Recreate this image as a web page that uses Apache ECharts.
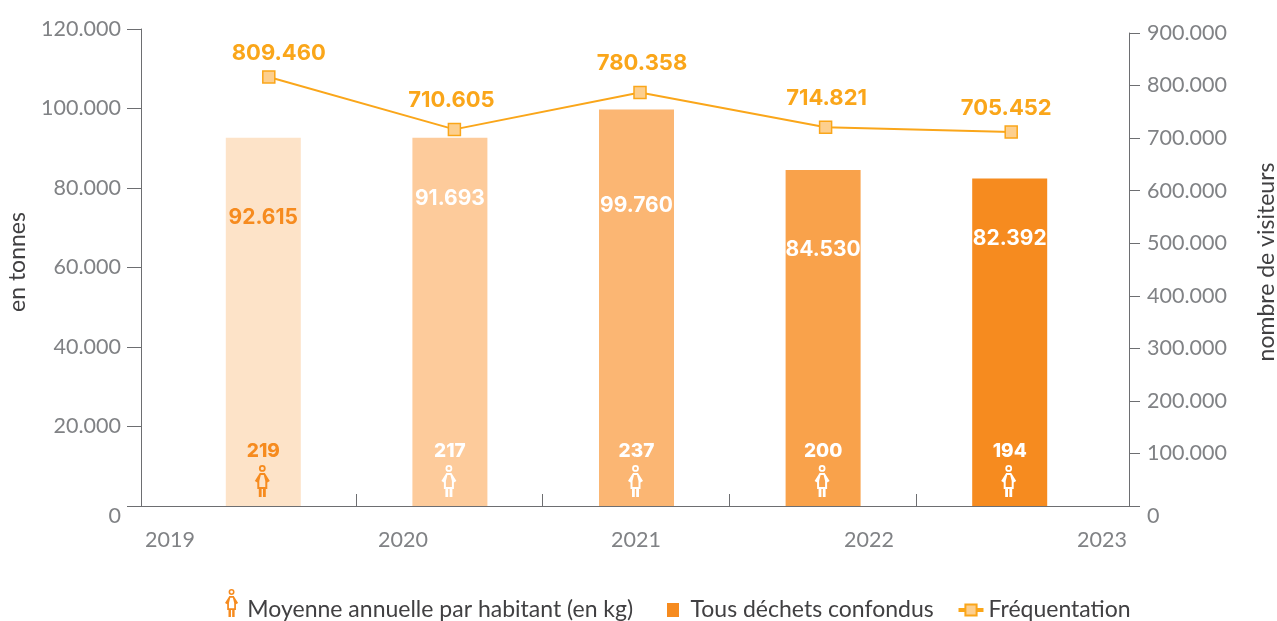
<!DOCTYPE html>
<html><head><meta charset="utf-8">
<style>html,body{margin:0;padding:0;background:#fff}#c{width:1277px;height:621px}</style>
<script src="https://cdn.jsdelivr.net/npm/echarts@6/dist/echarts.min.js"></script>
</head><body><div id="c"></div>
<script>
const years = ['2019','2020','2021','2022','2023'];
const tonnes = [92615, 91693, 99760, 84530, 82392];
const barHeights = [92615, 92615, 99760, 84530, 82392];
const perHabitant = [219, 217, 237, 200, 194];
const visitors = [809460, 710605, 780358, 714821, 705452];
const barColors = ['#fde3c8','#fdcb9b','#fbb673','#f9a24b','#f68b1f'];
const barLabelColors = ['#f68b1f','#fff','#fff','#fff','#fff'];
const barLabelDrop = [69, 50, 86, 69, 50];
const lineLabelOffsets = [[10,6],[-3,1],[2,1],[1,1],[-5,6]];

const FONT = 'Lato', BOLD = 'Inter';
const GREY = '#808285', AXIS = '#6d6e71', DARK = '#414042', ORANGE = '#f68b1f', AMBER = '#faa61a';
const fmt = v => String(v).replace(/\B(?=(\d{3})+$)/g, '.');
const person = 'path://M7.5 0A3.4 3.4 0 1 1 7.49 0ZM7.5 1.8A1.6 1.6 0 1 0 7.51 1.8Z'
  + 'M5 8H10L15 16L12.5 17.5V24H2.5V17.5L0 16ZM6 10L4.5 16V22H10.5V16L9 10Z'
  + 'M4 24H6.8V32H4ZM8.2 24H11V32H8.2Z';
const personLegend = person + 'M-4 48L-4 48';
const tickLabel = (align, margin) => ({
  color: GREY, fontFamily: FONT, fontSize: 21.5, fontWeight: 400, margin, align,
  formatter: v => v === 0 ? '{zero|0}' : fmt(v),
  rich: { zero: { color: GREY, fontFamily: FONT, fontSize: 21.5, fontWeight: 400, padding: [20,0,0,0] } }
});
const hiddenX = (gridIndex, data) => ({ type:'category', gridIndex, data, show:false });
const hiddenY = (gridIndex, max) => ({ type:'value', gridIndex, min:0, max, show:false });
const legendBase = { orient:'horizontal', itemWidth:25, itemGap:5, padding:0,
  textStyle:{ color:DARK, fontFamily:FONT, fontSize:23, fontWeight:400 } };
const gridBase = { outerBoundsMode:'none', containLabel:false, top:29, height:477 };

const option = {
  animation:false,
  grid:[
    {...gridBase, left:141, width:988},
    {...gridBase, left:141, width:988, top:33, height:473},
    {...gridBase, left:170, width:933},
    {...gridBase, left:176, width:928},
    {...gridBase, left:170, width:932},
    {...gridBase, left:356, width:560}
  ],
  xAxis:[
    { type:'category', gridIndex:0, data:years, axisLine:{lineStyle:{color:AXIS,width:1}}, axisTick:{show:false}, axisLabel:{show:false} },
    hiddenX(1, years),
    hiddenX(2, years),
    hiddenX(3, years),
    { type:'category', gridIndex:4, data:years, boundaryGap:false, axisLine:{show:false}, axisTick:{show:false},
      axisLabel:{color:GREY, fontFamily:FONT, fontSize:21.5, fontWeight:400, margin:23, interval:0, showMinLabel:true, showMaxLabel:true} },
    { type:'category', gridIndex:5, data:years.slice(1), boundaryGap:false, axisLine:{show:false},
      axisTick:{show:true, inside:true, length:12, alignWithLabel:true, interval:0, lineStyle:{color:AXIS,width:1}}, axisLabel:{show:false} }
  ],
  yAxis:[
    { type:'value', gridIndex:0, min:0, max:120000, interval:20000, position:'left', splitLine:{show:false},
      axisLine:{show:true, lineStyle:{color:AXIS,width:1}}, axisTick:{show:true, length:14, lineStyle:{color:AXIS,width:1}},
      axisLabel:tickLabel('right', 20),
      name:'en tonnes', nameLocation:'middle', nameGap:112, nameRotate:90, nameMoveOverlap:false,
      nameTextStyle:{color:DARK, fontFamily:FONT, fontSize:23, padding:[0,0,0,11]} },
    { type:'value', gridIndex:1, min:0, max:900000, interval:100000, position:'right', splitLine:{show:false},
      axisLine:{show:true, lineStyle:{color:AXIS,width:1}}, axisTick:{show:true, length:11, lineStyle:{color:AXIS,width:1}},
      axisLabel:tickLabel('left', 18),
      name:'nombre de visiteurs', nameLocation:'middle', nameGap:126, nameRotate:90, nameMoveOverlap:false,
      nameTextStyle:{color:DARK, fontFamily:FONT, fontSize:23, padding:[0,0,0,15]} },
    hiddenY(2, 120000),
    hiddenY(2, 300),
    hiddenY(3, 900000),
    hiddenY(4, 1),
    hiddenY(5, 1)
  ],
  legend:[
    {...legendBase, left:221.5, top:589, itemHeight:42, data:[{name:'Moyenne annuelle par habitant (en kg)', icon:personLegend}],
      itemStyle:{color:ORANGE, borderWidth:0}},
    {...legendBase, left:667, top:598.5, itemHeight:14, data:[{name:'Tous déchets confondus', icon:'path://M0 0H12V14H0Z'}],
      itemStyle:{color:ORANGE, borderWidth:0}},
    {...legendBase, left:956.5, top:598.5, itemHeight:14, data:[{name:'Fréquentation'}], lineStyle:{width:4}}
  ],
  series:[
    { name:'Tous déchets confondus', type:'bar', xAxisIndex:2, yAxisIndex:2, barWidth:75,
      itemStyle:{color:ORANGE},
      data:barHeights.map((value,i)=>({value, itemStyle:{color:barColors[i]},
        label:{show:true, position:'insideTop', distance:barLabelDrop[i], color:barLabelColors[i], formatter:fmt(tonnes[i]),
          fontFamily:BOLD, fontWeight:700, fontSize:21}})) },
    { name:'Moyenne annuelle par habitant (en kg)', type:'pictorialBar', xAxisIndex:2, yAxisIndex:3,
      symbol:person, symbolSize:[15,32], symbolPosition:'start', symbolOffset:[-1,-9], z:4,
      itemStyle:{color:ORANGE},
      data:perHabitant.map((value,i)=>({value, itemStyle:{color:barLabelColors[i]},
        label:{show:true, position:'insideBottom', distance:45, color:barLabelColors[i], formatter:String(value),
          fontFamily:BOLD, fontWeight:800, fontSize:19}})) },
    { name:'Fréquentation', type:'line', xAxisIndex:3, yAxisIndex:4, symbol:'rect', symbolSize:12, z:5,
      lineStyle:{color:AMBER,width:2}, itemStyle:{color:'#fdcf8e',borderColor:AMBER,borderWidth:1.5},
      data:visitors.map((value,i)=>({value,
        label:{show:true, position:'top', distance:12, offset:lineLabelOffsets[i], color:AMBER, formatter:fmt(value),
          fontFamily:BOLD, fontWeight:700, fontSize:22}})) }
  ]
};
echarts.init(document.getElementById('c'),null,{renderer:'canvas'}).setOption(option);
</script></body></html>
